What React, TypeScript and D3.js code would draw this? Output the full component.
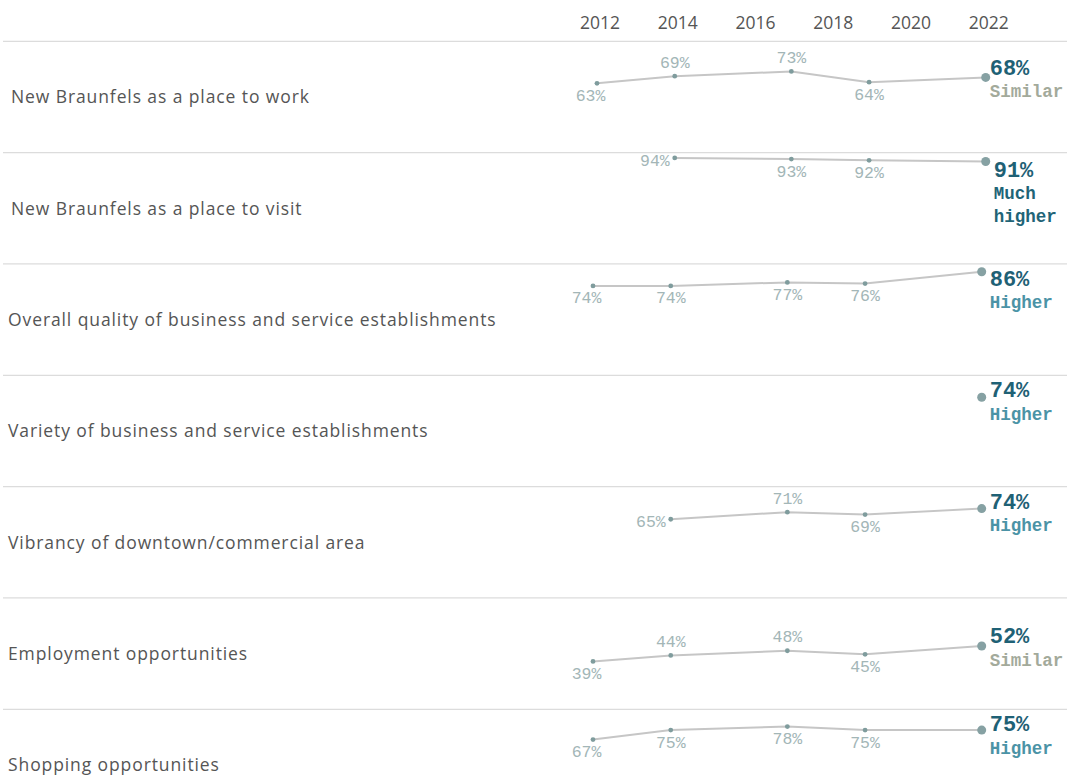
import React from "react";
import * as d3 from "d3";

const years = [2012, 2014, 2017, 2019, 2022];
const axisTicks = [2012, 2014, 2016, 2018, 2020, 2022];
const categories = [
  "New Braunfels as a place to work",
  "New Braunfels as a place to visit",
  "Overall quality of business and service establishments",
  "Variety of business and service establishments",
  "Vibrancy of downtown/commercial area",
  "Employment opportunities",
  "Shopping opportunities",
];
const placeToWork = [63, 69, 73, 64, 68];
const placeToVisit = [null, 94, 93, 92, 91];
const overallQuality = [74, 74, 77, 76, 86];
const variety = [null, null, null, null, 74];
const vibrancy = [null, 65, 71, 69, 74];
const employment = [39, 44, 48, 45, 52];
const shopping = [67, 75, 78, 75, 75];
const seriesValues: (number | null)[][] = [placeToWork, placeToVisit, overallQuality, variety, vibrancy, employment, shopping];
const comparisons = ["Similar", "Much higher", "Higher", "Higher", "Higher", "Similar", "Higher"];
// label placement per point: b = below, a = above, l = left, bl = below (shifted left)
const labelPlacement = [
  ["bl", "a", "a", "b", ""],
  ["", "l", "b", "b", ""],
  ["bl", "b", "b", "b", ""],
  ["", "", "", "", ""],
  ["", "l", "a", "b", ""],
  ["bl", "a", "a", "b", ""],
  ["bl", "b", "b", "b", ""],
];

const W = 1067;
const H = 779;
const headerH = 41.3;
const rowH = 111.33;

const compColor: Record<string, string> = {
  Similar: "#a3aa9b",
  Higher: "#4b93a6",
  "Much higher": "#1f6477",
};

export default function App() {
  const x = d3.scaleLinear().domain([2012, 2022]).range([593, 981.7]);
  const y = d3.scaleLinear().domain([0, 94]).range([rowH - 1.7, -1.7]);
  const mono = "'Liberation Mono', 'Courier New', monospace";
  const sans = "'Open Sans', sans-serif";

  return (
    <svg
      width={W}
      height={H}
      style={{ position: "absolute", left: 0, top: 0, background: "#fff" }}
    >
      {axisTicks.map((t) => (
        <text
          key={t}
          x={x(t) + 7}
          y={29}
          textAnchor="middle"
          fontFamily={sans}
          fontSize={17.5}
          fill="#555"
        >
          {t}
        </text>
      ))}
      {categories.map((cat, i) => {
        const top = headerH + i * rowH;
        const shifted = i < 2;
        const dx = shifted ? 4 : 0;
        const dy = shifted ? 7 : 0;
        const vals = seriesValues[i];
        const pts = years.map((yr, j) => ({ yr, v: vals[j], j }));
        const line = d3
          .line<{ yr: number; v: number | null }>()
          .defined((d) => d.v != null)
          .x((d) => x(d.yr) + dx)
          .y((d) => top + y(d.v as number) + dy);
        const last = pts[pts.length - 1];
        const lastY = top + y(last.v as number) + dy;
        const comp = comparisons[i];
        const compLines = comp.split(" ");
        const valBase = Math.max(lastY - 2.5, top + 22 + (compLines.length > 1 ? 2 : 0));
        const textX = x(2022) + 8 + (compLines.length > 1 ? 4 : 0);
        return (
          <g key={cat}>
            <line x1={3} x2={W} y1={top} y2={top} stroke="#dcdcdc" strokeWidth={1.3} />
            <text
              x={shifted ? 11 : 8}
              y={top + rowH / 2 + 6.5}
              fontFamily={sans}
              fontSize={17.5}
              letterSpacing={0.9}
              fill="#555"
            >
              {cat}
            </text>
            <path d={line(pts) || ""} fill="none" stroke="#c6c6c6" strokeWidth={2} />
            {pts.map((p, j) => {
              if (p.v == null) return null;
              const px = x(p.yr) + dx;
              const py = top + y(p.v) + dy;
              const isLast = j === pts.length - 1;
              const pos = labelPlacement[i][j];
              let lx = px;
              let ly = py;
              let anchor: "middle" | "end" = "middle";
              if (pos === "b") ly = py + 17.5;
              else if (pos === "bl") {
                lx = px - 6.5;
                ly = py + 17.5;
              } else if (pos === "a") ly = py - 8.5;
              else if (pos === "l") {
                lx = px - 5;
                ly = py + 8;
                anchor = "end";
              }
              return (
                <g key={j}>
                  <circle
                    cx={px}
                    cy={py}
                    r={isLast ? 4.5 : 2.4}
                    fill={isLast ? "#86a1a3" : "#7f9c9d"}
                  />
                  {!isLast && pos && (
                    <text
                      x={lx}
                      y={ly}
                      textAnchor={anchor}
                      fontFamily={mono}
                      fontSize={16.5}
                      fill="#a3b6b7"
                    >
                      {p.v}%
                    </text>
                  )}
                </g>
              );
            })}
            <text
              x={textX}
              y={valBase}
              fontFamily={mono}
              fontWeight="bold"
              fontSize={22}
              fill="#1f6175"
            >
              {last.v}%
            </text>
            {compLines.map((cl, k) => (
              <text
                key={k}
                x={textX}
                y={valBase + 22.5 * (k + 1)}
                fontFamily={mono}
                fontWeight="bold"
                fontSize={17.5}
                fill={compColor[comp]}
              >
                {cl}
              </text>
            ))}
          </g>
        );
      })}
    </svg>
  );
}
